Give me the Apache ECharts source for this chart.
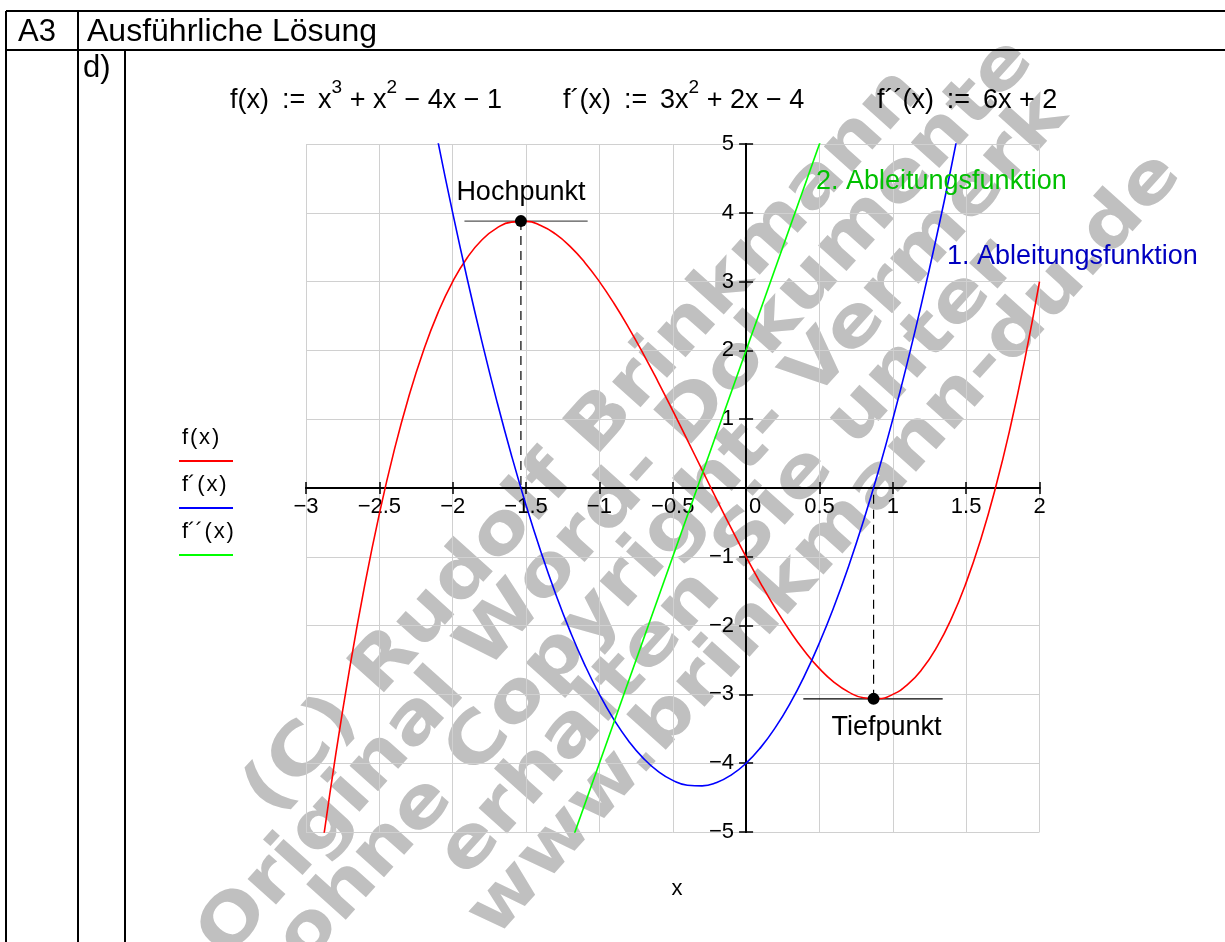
<!DOCTYPE html>
<html>
<head>
<meta charset="utf-8">
<script src="https://cdn.jsdelivr.net/npm/echarts@6/dist/echarts.min.js"></script>
<style>
html,body{margin:0;padding:0;background:#fff;}
#main{width:1225px;height:942px;}
</style>
</head>
<body>
<div id="main"></div>
<script>
// x positions and values of the plotted functions
var fPoints = [
  [-2.9,-5.379],[-2.8,-3.912],[-2.7,-2.593],[-2.6,-1.416],[-2.5,-0.375],[-2.4,0.536],[-2.3,1.323],
  [-2.2,1.992],[-2.1,2.549],[-2.0,3.0],[-1.9,3.351],[-1.8,3.608],[-1.7,3.777],[-1.6,3.864],
  [-1.5,3.875],[-1.4,3.816],[-1.3,3.693],[-1.2,3.512],[-1.1,3.279],[-1.0,3.0],[-0.9,2.681],
  [-0.8,2.328],[-0.7,1.947],[-0.6,1.544],[-0.5,1.125],[-0.4,0.696],[-0.3,0.263],[-0.2,-0.168],
  [-0.1,-0.591],[0.0,-1.0],[0.1,-1.389],[0.2,-1.752],[0.3,-2.083],[0.4,-2.376],[0.5,-2.625],
  [0.6,-2.824],[0.7,-2.967],[0.8,-3.048],[0.9,-3.061],[1.0,-3.0],[1.1,-2.859],[1.2,-2.632],
  [1.3,-2.313],[1.4,-1.896],[1.5,-1.375],[1.6,-0.744],[1.7,0.003],[1.8,0.872],[1.9,1.869],[2.0,3.0]
];
var f1Points = [
  [-2.2,6.12],[-2.1,5.03],[-2.0,4.0],[-1.9,3.03],[-1.8,2.12],[-1.7,1.27],[-1.6,0.48],[-1.5,-0.25],
  [-1.4,-0.92],[-1.3,-1.53],[-1.2,-2.08],[-1.1,-2.57],[-1.0,-3.0],[-0.9,-3.37],[-0.8,-3.68],
  [-0.7,-3.93],[-0.6,-4.12],[-0.5,-4.25],[-0.4,-4.32],[-0.3,-4.33],[-0.2,-4.28],[-0.1,-4.17],
  [0.0,-4.0],[0.1,-3.77],[0.2,-3.48],[0.3,-3.13],[0.4,-2.72],[0.5,-2.25],[0.6,-1.72],[0.7,-1.13],
  [0.8,-0.48],[0.9,0.23],[1.0,1.0],[1.1,1.83],[1.2,2.72],[1.3,3.67],[1.4,4.68],[1.5,5.75]
];
var f2Points = [[-1.2,-5.2],[0.6,5.6]];
var extremaPoints = [[-1.535,3.879],[0.869,-3.065]];
var extremaNames = ['Hochpunkt','Tiefpunkt'];
var hochTangent = [[-1.92,3.879],[-1.08,3.879]];
var tiefTangent = [[0.39,-3.065],[1.34,-3.065]];
var hochDrop = [[-1.535,3.879],[-1.535,0]];
var tiefDrop = [[0.869,-3.065],[0.869,0]];
var xMin = -3, xMax = 2, xStep = 0.5;
var yMin = -5, yMax = 5, yStep = 1;
var legendNames = ['f\u200a(\u200ax\u200a)','f\u00b4\u200a(\u200ax\u200a)','f\u00b4\u00b4\u200a(\u200ax\u200a)'];
var watermarkLines = ['(C) Rudolf Brinkmann','Original Word- Dokumente','ohne Copyright- Vermerk','erhalten Sie unter','www.brinkmann-du.de'];

var FONT = '"Liberation Sans", Arial, sans-serif';
var chart = echarts.init(document.getElementById('main'), null, {renderer:'canvas'});

function fmtNum(v){ return String(v).replace('-', '\u2212'); }

var wmShift = [-65, -85, -70, -55, 20];
var wmChildren = watermarkLines.map(function(t,i){
  return {type:'text', x:wmShift[i], y:(i-2)*62, scaleX:1.15, scaleY:1,
    style:{text:t, align:'center', verticalAlign:'middle',
    font:'bold 70px "DejaVu Sans"', fill:'#c0c0c0'}};
});

var supRich = {
  b:{fontSize:27, fontFamily:FONT, color:'#000', lineHeight:36, verticalAlign:'bottom'},
  s:{fontSize:19, fontFamily:FONT, color:'#000', lineHeight:36, verticalAlign:'top'}
};
function formula(x, y, txt){
  return {type:'text', left:x, top:y, z:20, style:{text:txt, rich:supRich, font:'27px '+FONT, fill:'#000'}};
}
function hline(x1,y1,x2,y2,w,c){
  return {type:'line', z:20, shape:{x1:x1,y1:y1,x2:x2,y2:y2}, style:{stroke:c||'#000', lineWidth:w||2}};
}
function label(x,y,txt,size,color,align){
  return {type:'text', x:x, y:y, z:20, style:{text:txt, font:size+'px '+FONT, fill:color||'#000', align:align||'left', verticalAlign:'middle'}};
}

var legendColors = ['#ff0000','#0000ff','#00ff00'];
var legendGraphics = [];
legendNames.forEach(function(n,i){
  legendGraphics.push(label(182, 438 + i*47, n, 22, '#000'));
  legendGraphics.push(hline(179, 461 + i*47, 233, 461 + i*47, 2, legendColors[i]));
});

var SP = '\u2009 ';
var option = {
  backgroundColor:'#fff',
  animation:false,
  grid:[
    {left:306, right:185.5, top:144, bottom:110},
    {left:746.1, right:185.5, top:144, bottom:110},      // holds y tick labels beside the y axis
    {left:306, right:185.5, top:144, bottom:454}          // holds x tick labels below the x axis
  ],
  xAxis:[{
    gridIndex:0, type:'value', min:xMin, max:xMax, interval:xStep, position:'bottom',
    axisLine:{show:true, onZero:true, onZeroAxisIndex:0, lineStyle:{color:'#000', width:2}},
    axisTick:{show:true, length:6, lineStyle:{color:'#000', width:1.5}},
    axisLabel:{show:false},
    splitLine:{show:true, lineStyle:{color:'#d0d0d0', width:1}}
  },{
    gridIndex:0, type:'value', min:xMin, max:xMax, interval:xStep, position:'top',
    axisLine:{show:true, onZero:true, onZeroAxisIndex:0, lineStyle:{color:'#000', width:2}},
    axisTick:{show:true, length:6, lineStyle:{color:'#000', width:1.5}},
    axisLabel:{show:false}, splitLine:{show:false}
  },{
    gridIndex:1, type:'value', min:0, max:1, show:false
  },{
    gridIndex:2, type:'value', min:xMin, max:xMax, interval:xStep, position:'bottom',
    axisLine:{show:false, onZero:false}, axisTick:{show:false}, splitLine:{show:false},
    axisLabel:{color:'#000', fontSize:22, fontFamily:FONT, margin:8,
      formatter:function(v){ return v===0 ? '{z|0}' : fmtNum(v); },
      rich:{z:{fontSize:22, fontFamily:FONT, color:'#000', padding:[0,0,0,18]}}}
  }],
  yAxis:[{
    gridIndex:0, type:'value', min:yMin, max:yMax, interval:yStep, position:'left',
    axisLine:{show:true, onZero:true, onZeroAxisIndex:0, lineStyle:{color:'#000', width:2}},
    axisTick:{show:true, length:7, lineStyle:{color:'#000', width:1.5}},
    axisLabel:{show:false},
    splitLine:{show:true, lineStyle:{color:'#d0d0d0', width:1}}
  },{
    gridIndex:0, type:'value', min:yMin, max:yMax, interval:yStep, position:'right',
    axisLine:{show:true, onZero:true, onZeroAxisIndex:0, lineStyle:{color:'#000', width:2}},
    axisTick:{show:true, length:7, lineStyle:{color:'#000', width:1.5}},
    axisLabel:{show:false}, splitLine:{show:false}
  },{
    gridIndex:1, type:'value', min:yMin, max:yMax, interval:yStep, position:'left',
    axisLine:{show:false, onZero:false}, axisTick:{show:false}, splitLine:{show:false},
    axisLabel:{color:'#000', fontSize:22, fontFamily:FONT, margin:12,
      formatter:function(v){ return v===0 ? '' : fmtNum(v); }}
  },{
    gridIndex:2, type:'value', min:0, max:1, show:false
  }],
  series:[
    {type:'line', xAxisIndex:0, yAxisIndex:0, data:fPoints, symbol:'none', smooth:true, clip:true, z:5, lineStyle:{color:'#ff0000', width:1.6}},
    {type:'line', xAxisIndex:0, yAxisIndex:0, data:f1Points, symbol:'none', smooth:true, clip:true, z:5, lineStyle:{color:'#0000ff', width:1.6}},
    {type:'line', xAxisIndex:0, yAxisIndex:0, data:f2Points, symbol:'none', clip:true, z:5, lineStyle:{color:'#00ff00', width:1.6}},
    {type:'line', xAxisIndex:0, yAxisIndex:0, data:hochTangent, symbol:'none', z:4, lineStyle:{color:'#555555', width:1.2}},
    {type:'line', xAxisIndex:0, yAxisIndex:0, data:tiefTangent, symbol:'none', z:4, lineStyle:{color:'#000000', width:1.2}},
    {type:'line', xAxisIndex:0, yAxisIndex:0, data:hochDrop, symbol:'none', z:4, lineStyle:{color:'#000000', width:1.2, type:[9,6]}},
    {type:'line', xAxisIndex:0, yAxisIndex:0, data:tiefDrop, symbol:'none', z:4, lineStyle:{color:'#000000', width:1.2, type:[9,6]}},
    {type:'scatter', xAxisIndex:0, yAxisIndex:0, z:6, symbolSize:12, itemStyle:{color:'#000', opacity:1},
      data:[
        {value:extremaPoints[0], label:{show:true, position:'top', distance:9, color:'#000', fontSize:27, fontFamily:FONT, formatter:extremaNames[0]}},
        {value:extremaPoints[1], label:{show:true, position:'bottom', distance:9, offset:[13,0], color:'#000', fontSize:27, fontFamily:FONT, formatter:extremaNames[1]}}
      ]}
  ],
  graphic:[
    {type:'group', x:720, y:477, rotation:48*Math.PI/180, z:1, silent:true, children:wmChildren},
    hline(6,11,1225,11,2), hline(6,50,1225,50,2),
    hline(6,11,6,942,2), hline(78,11,78,942,2), hline(125,50,125,942,2),
    label(18,32,'A3',31), label(87,32,'Ausführliche Lösung',32), label(83,68,'d)',31),
    formula(230,78,'{b|f(x)'+SP+':='+SP+'x}{s|3}{b| + x}{s|2}{b| \u2212 4x \u2212 1}'),
    formula(563,78,'{b|f\u00b4(x)'+SP+':='+SP+'3x}{s|2}{b| + 2x \u2212 4}'),
    formula(877,78,'{b|f\u00b4\u00b4(x)'+SP+':='+SP+'6x + 2}{s| }'),
    label(816,182,'2. Ableitungsfunktion',27,'#00c000'),
    label(947,257,'1. Ableitungsfunktion',27,'#0000c0'),
    label(677,889,'x',22,'#000','center')
  ].concat(legendGraphics)
};
chart.setOption(option);
</script>
</body>
</html>
